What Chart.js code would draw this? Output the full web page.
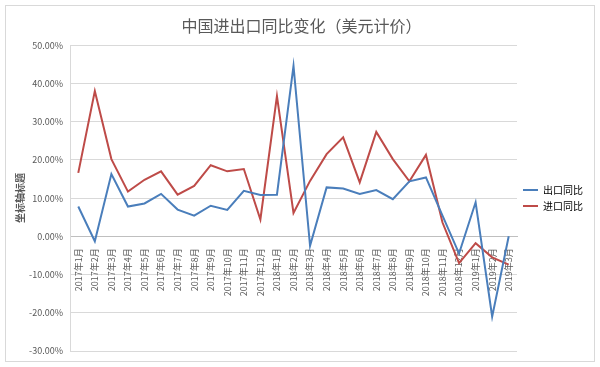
<!DOCTYPE html>
<html>
<head>
<meta charset="utf-8">
<script src="https://cdn.jsdelivr.net/npm/chart.js@4"></script>
<style>
  body { margin: 0; background: #fff; }
  #wrap { width: 600px; height: 367px; }
</style>
</head>
<body>
<div id="wrap"><canvas id="myChart"></canvas></div>
<script>
const months = [
  '2017年1月', '2017年2月', '2017年3月', '2017年4月', '2017年5月', '2017年6月',
  '2017年7月', '2017年8月', '2017年9月', '2017年10月', '2017年11月', '2017年12月',
  '2018年1月', '2018年2月', '2018年3月', '2018年4月', '2018年5月', '2018年6月',
  '2018年7月', '2018年8月', '2018年9月', '2018年10月', '2018年11月', '2018年12月',
  '2019年1月', '2019年2月', '2019年3月'
];
// 出口同比 (%)
const exportYoY = [7.8, -1.3, 16.3, 7.8, 8.6, 11.1, 7.0, 5.4, 8.0, 6.9, 11.9, 10.8,
  10.9, 44.6, -2.5, 12.8, 12.5, 11.1, 12.1, 9.7, 14.4, 15.4, 5.4, -4.5,
  8.9, -21.0, 0.0];
// 进口同比 (%)
const importYoY = [16.6, 38.0, 20.2, 11.7, 14.8, 17.0, 10.9, 13.2, 18.6, 17.0, 17.6, 4.4,
  36.7, 6.1, 14.5, 21.5, 25.9, 14.1, 27.3, 20.2, 14.4, 21.3, 3.6, -7.0,
  -1.8, -5.5, -7.4];
const yTicks = [-30, -20, -10, 0, 10, 20, 30, 40, 50];

const frame = {
  id: 'frame',
  beforeDraw(chart) {
    const ctx = chart.ctx;
    ctx.save();
    ctx.fillStyle = '#fff';
    ctx.fillRect(0, 0, chart.width, chart.height);
    ctx.strokeStyle = '#d9d9d9';
    ctx.lineWidth = 1;
    ctx.strokeRect(5.5, 5.5, 589, 356);
    ctx.restore();
  }
};

Chart.defaults.font.family = '"Noto Sans CJK SC", "Noto Sans", sans-serif';
Chart.defaults.color = '#595959';

const data = {
  labels: months,
  datasets: [{
    label: '出口同比',
    data: exportYoY,
    borderColor: '#4a7ebb',
    backgroundColor: '#4a7ebb',
    borderWidth: 2,
    pointRadius: 0,
    tension: 0
  }, {
    label: '进口同比',
    data: importYoY,
    borderColor: '#be4b48',
    backgroundColor: '#be4b48',
    borderWidth: 2,
    pointRadius: 0,
    tension: 0
  }]
};

const config = {
  type: 'line',
  data: data,
  plugins: [frame],
  options: {
    responsive: true,
    maintainAspectRatio: false,
    animation: false,
    layout: { padding: { left: 10, top: 4, right: 7, bottom: 16 } },
    plugins: {
      title: {
        display: true,
        text: '中国进出口同比变化（美元计价）',
        font: { size: 16, weight: 'normal' },
        color: '#595959',
        padding: { top: 12, bottom: 10 }
      },
      legend: {
        position: 'right',
        fullSize: false,
        labels: {
          boxWidth: 15,
          boxHeight: 2,
          padding: 6,
          font: { size: 10 },
          color: '#595959',
          generateLabels(chart) {
            return chart.data.datasets.map((ds, i) => ({
              text: ds.label,
              fillStyle: ds.borderColor,
              strokeStyle: ds.borderColor,
              lineWidth: 0,
              datasetIndex: i
            }));
          }
        }
      },
      tooltip: { enabled: false }
    },
    scales: {
      x: {
        position: { y: 0 },
        offset: true,
        grid: { display: false },
        border: { display: true, color: '#bfbfbf' },
        ticks: {
          autoSkip: false,
          maxRotation: 90,
          minRotation: 90,
          padding: 4,
          font: { size: 9 },
          color: '#595959'
        }
      },
      y: {
        min: -30,
        max: 50,
        afterFit(s) { s.width = 60; },
        afterBuildTicks(s) { s.ticks = yTicks.map(v => ({ value: v })); },
        grid: { color: '#d9d9d9', drawTicks: false },
        border: { display: true, color: '#d9d9d9' },
        title: {
          display: true,
          text: '坐标轴标题',
          font: { size: 10, weight: 'bold' },
          color: '#595959'
        },
        ticks: {
          padding: 7,
          font: { size: 9 },
          color: '#595959',
          callback: v => v.toFixed(2) + '%'
        }
      }
    }
  }
};

const myChart = new Chart(document.getElementById('myChart'), config);
</script>
</body>
</html>
